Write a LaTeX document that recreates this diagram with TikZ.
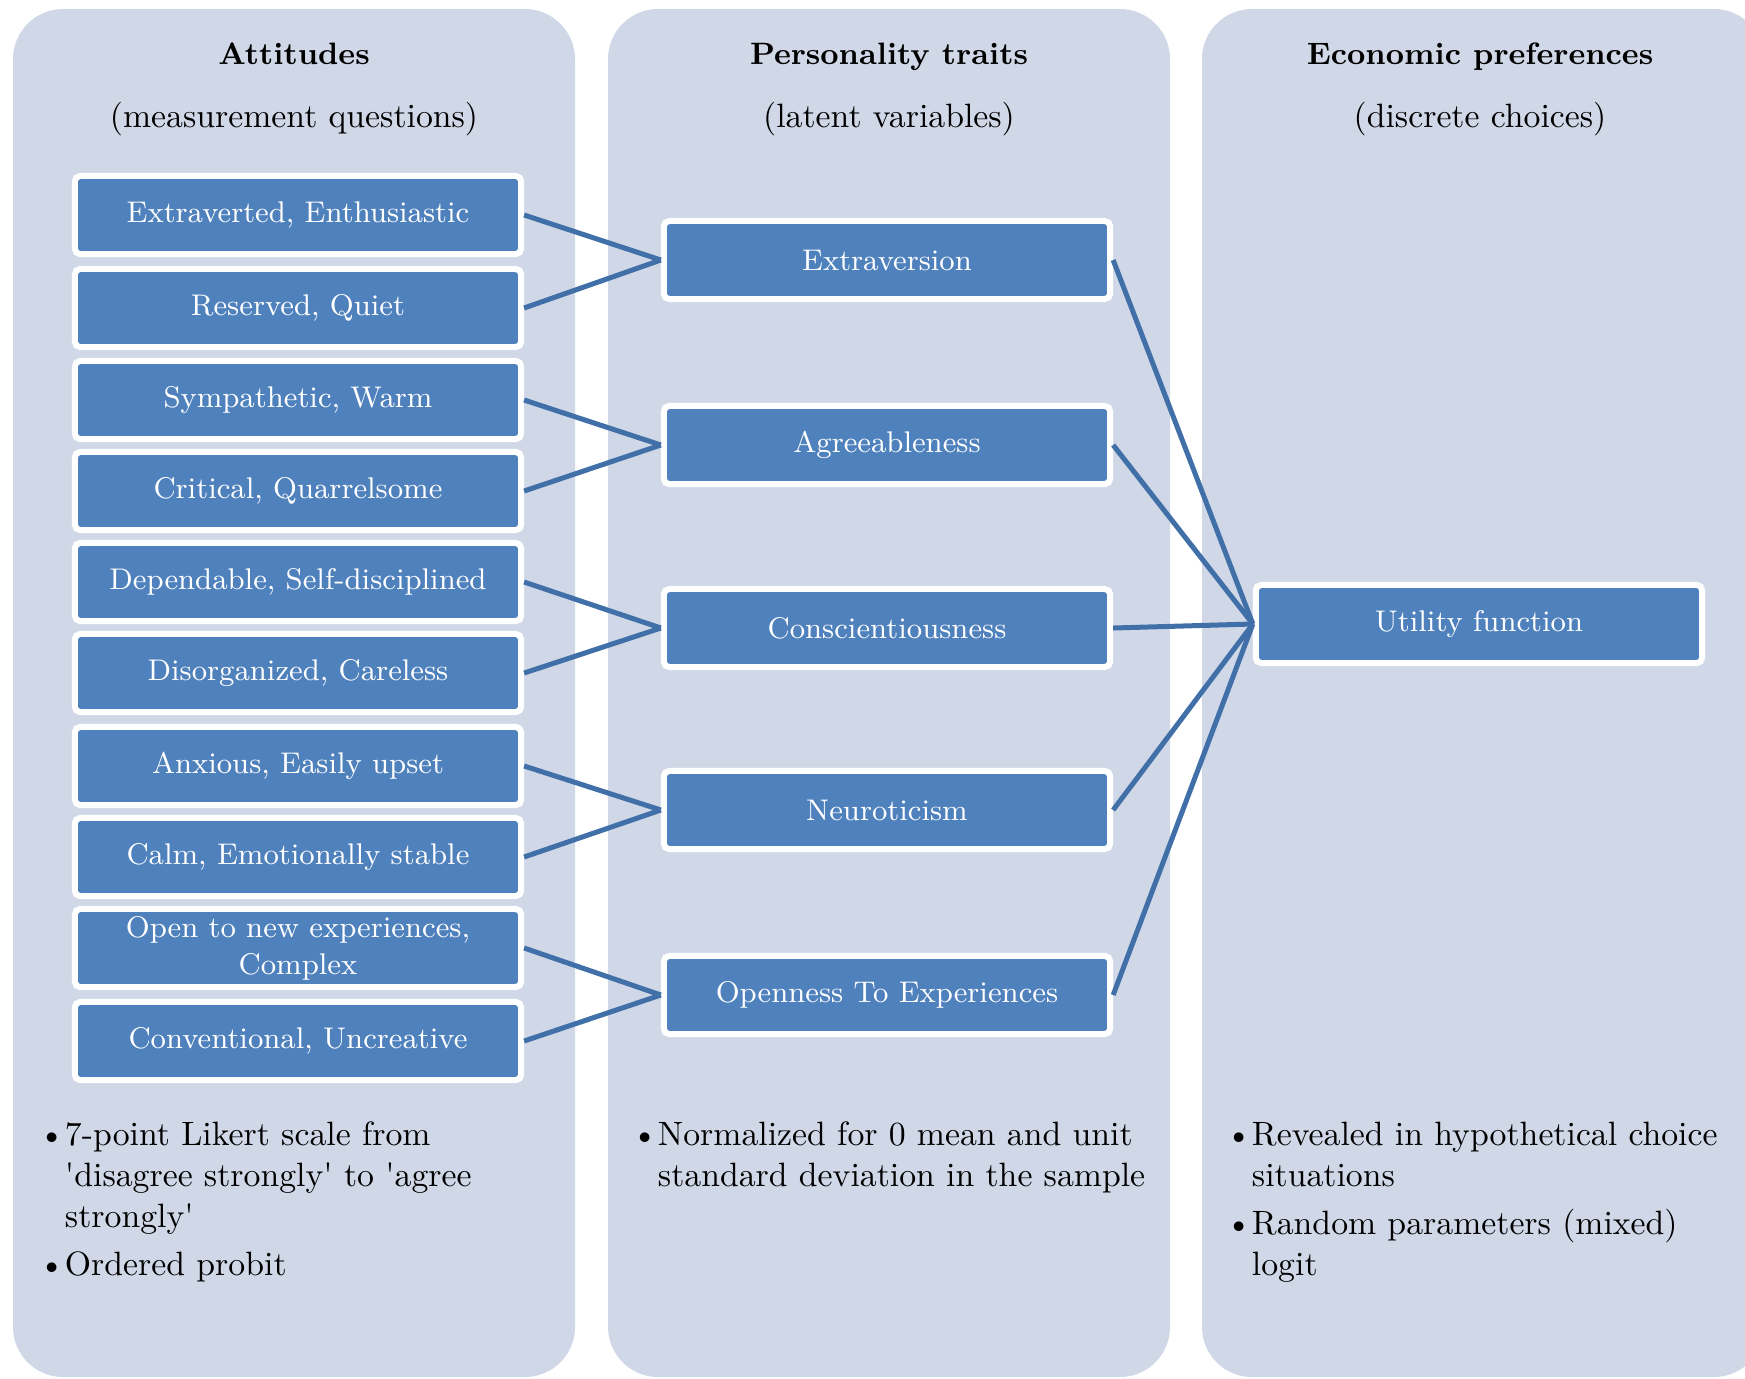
\documentclass[tikz,border=0pt]{standalone}
\usepackage{tikz}
\usetikzlibrary{positioning, calc}
\definecolor{panelbg}{HTML}{D0D8E8}
\definecolor{boxblue}{HTML}{4F81BD}
\definecolor{linkblue}{HTML}{4170A8}
\newcommand{\hang}{\hphantom{\textbullet}}
\newcommand{\q}{\textquotesingle}

\begin{document}
\begin{tikzpicture}[x=0.01cm, y=-0.01cm,
	panel/.style={fill=panelbg, rounded corners=0.5cm},
	item/.style={fill=boxblue, draw=white, line width=0.06cm, rounded corners=1.5pt, minimum width=4.46cm, minimum height=0.78cm, inner sep=0pt, text=white, align=center, font=\fontsize{8.5}{10.5}\selectfont},
	link/.style={draw=linkblue, line width=0.05cm},
	head/.style={anchor=base, font=\fontsize{8.8}{11}\selectfont\bfseries},
	sub/.style={anchor=base, font=\fontsize{9.6}{12}\selectfont},
	note/.style={anchor=north west, align=left, inner sep=0pt, font=\fontsize{9.6}{11.7}\selectfont}]
\useasboundingbox (0, 0) rectangle (1745, 1378);
\clip (0, 0) rectangle (1745, 1378);
\foreach \x in {13, 608, 1202}
	\fill[panel] (\x, 9) rectangle +(562, 1368);
\node[head] (h1) at (294, 64) {Attitudes};
\node[head] (h2) at (889, 64) {Personality traits};
\node[head] (h3) at (1480, 64) {Economic preferences};
\node[sub] (s1) at (294, 127) {(measurement questions)};
\node[sub] (s2) at (889, 127) {(latent variables)};
\node[sub] (s3) at (1480, 127) {(discrete choices)};
\foreach \y/\m/\t in {215/1/{Extraverted, Enthusiastic}, 308/2/{Reserved, Quiet}, 400/3/{Sympathetic, Warm},
	491/4/{Critical, Quarrelsome}, 582/5/{Dependable, Self-disciplined}, 673/6/{Disorganized, Careless},
	766/7/{Anxious, Easily upset}, 857/8/{Calm, Emotionally stable}, 948/9/{Open to new experiences,\\Complex},
	1041/10/{Conventional, Uncreative}}
	\node[item] (A\m) at (298, \y) {\t};
\foreach \y/\m/\t in {260/1/Extraversion, 445/2/Agreeableness, 628/3/Conscientiousness, 810/4/Neuroticism, 995/5/Openness To Experiences}
	\node[item] (T\m) at (887, \y) {\t};
\node[item] (U) at (1479, 624) {Utility function};
\foreach \a/\t in {1/1, 2/1, 3/2, 4/2, 5/3, 6/3, 7/4, 8/4, 9/5, 10/5}
	\draw[link] (A\a.east) -- (T\t.west);
\foreach \t in {1, ..., 5}
	\draw[link] (T\t.east) -- (U.west);
\node[note] (n1) at (38, 1121) {\textbullet 7-point Likert scale from\\\hang\q disagree strongly\q{} to \q agree\\\hang strongly\q\\[2pt]\textbullet Ordered probit};
\node[note] (n2) at (631, 1121) {\textbullet Normalized for 0 mean and unit\\\hang standard deviation in the sample};
\node[note] (n3) at (1225, 1121) {\textbullet Revealed in hypothetical choice\\\hang situations\\[2pt]\textbullet Random parameters (mixed)\\\hang logit};
\end{tikzpicture}
\end{document}
